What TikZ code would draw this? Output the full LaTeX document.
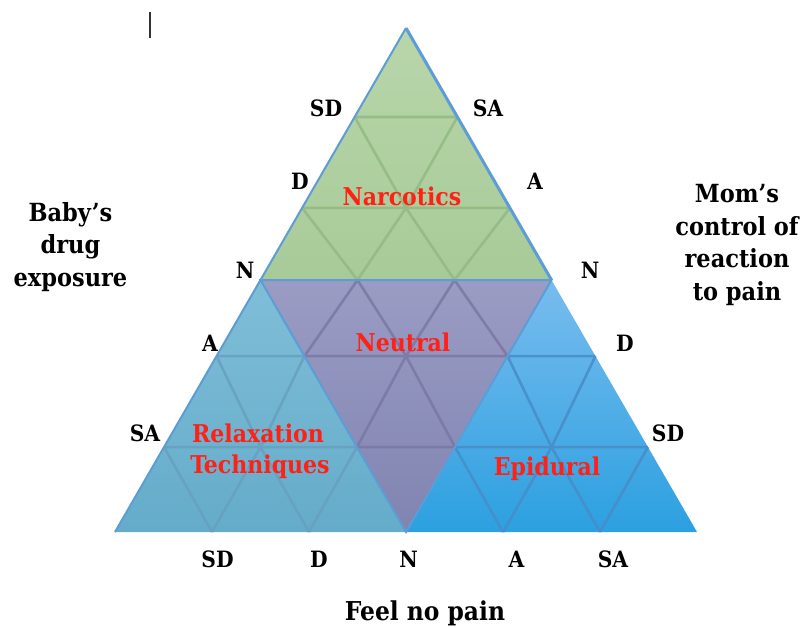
\documentclass[tikz,border=0pt]{standalone}
\usepackage{fontspec}
\setmainfont{DejaVu Serif Condensed}
\usetikzlibrary{calc,shadings}
\definecolor{gfill}{RGB}{168,202,152}
\definecolor{gfillT}{RGB}{184,214,170}
\definecolor{pfillT}{RGB}{154,156,196}
\definecolor{pfillB}{RGB}{128,132,176}
\definecolor{lfillT}{RGB}{128,190,216}
\definecolor{lfillB}{RGB}{100,172,202}
\definecolor{rfillT}{RGB}{120,188,238}
\definecolor{rfillB}{RGB}{44,160,224}
\definecolor{gridG}{RGB}{146,186,130}
\definecolor{gridP}{RGB}{122,120,165}
\definecolor{gridL}{RGB}{104,160,190}
\definecolor{gridR}{RGB}{72,140,200}
\definecolor{edgeB}{RGB}{92,157,214}
\definecolor{redT}{RGB}{255,32,22}
\newcommand{\gridtri}[6]{%
  \coordinate (l1) at ($(#1)!#4!(#2)$);
  \coordinate (r1) at ($(#1)!#4!(#3)$);
  \coordinate (l2) at ($(#1)!#5!(#2)$);
  \coordinate (r2) at ($(#1)!#5!(#3)$);
  \coordinate (m2) at ($(l2)!0.5!(r2)$);
  \coordinate (c1) at ($(#2)!1/3!(#3)$);
  \coordinate (c2) at ($(#2)!2/3!(#3)$);
  \draw[#6] (l1) -- (r1) (l2) -- (r2) (l1) -- (m2) -- (c2) (r1) -- (m2) -- (c1) (l2) -- (c1) (r2) -- (c2);
}
\begin{document}
\begin{tikzpicture}[x=1pt,y=-1pt,
  axlab/.style={font=\fontsize{22.5}{22.5}\selectfont\bfseries, anchor=base, inner sep=0pt},
  redlab/.style={font=\fontsize{24.5}{24.5}\selectfont\bfseries, text=redT, anchor=base, inner sep=0pt},
  sidelab/.style={font=\fontsize{25}{32.5}\selectfont\bfseries, align=center, inner sep=0pt},
  gridline/.style={line width=2.6pt, opacity=0.85}]
\useasboundingbox (0,0) rectangle (809,627);
\coordinate (T) at (406,28);
\coordinate (L) at (115,532);
\coordinate (R) at (697,532);
\coordinate (ML) at ($(T)!0.5!(L)$);
\coordinate (MR) at ($(T)!0.5!(R)$);
\coordinate (MB) at ($(L)!0.5!(R)$);
% fills
\shade[top color=gfillT, bottom color=gfill] (T) -- (ML) -- (MR) -- cycle;
\shade[top color=pfillT, bottom color=pfillB] (ML) -- (MR) -- (MB) -- cycle;
\shade[top color=lfillT, bottom color=lfillB] (ML) -- (L) -- (MB) -- cycle;
\shade[top color=rfillT, bottom color=rfillB] (MR) -- (MB) -- (R) -- cycle;
% grids
\gridtri{T}{ML}{MR}{0.353}{0.714}{gridline, gridG}
\gridtri{MB}{ML}{MR}{0.337}{0.698}{gridline, gridP}
\gridtri{ML}{L}{MB}{0.302}{0.663}{gridline, gridL}
\gridtri{MR}{MB}{R}{0.302}{0.663}{gridline, gridR}
% outlines
\draw[edgeB, line width=2pt] (ML) -- (MR) -- (MB) -- cycle;
\draw[edgeB, line width=2pt] (T) -- (L);
\draw[edgeB, line width=3pt] (T) -- (MR);
% cursor mark
\draw[black!80, line width=1.5pt] (150,12) -- (150,38);
% region labels
\node[redlab] (narc) at (402,205) {Narcotics};
\node[redlab] (neut) at (403,351) {Neutral};
\node[redlab] (relax) at (258,442) {Relaxation};
\node[redlab] (tech) at (260,473) {Techniques};
\node[redlab] (epid) at (547,475) {Epidural};
% left axis labels
\node[axlab] (lsd) at (326,116) {SD};
\node[axlab] (ld) at (300,189) {D};
\node[axlab] (ln) at (245,278) {N};
\node[axlab] (la) at (210,351) {A};
\node[axlab] (lsa) at (145,441) {SA};
% right axis labels
\node[axlab] (rsa) at (488,116) {SA};
\node[axlab] (ra) at (535,189) {A};
\node[axlab] (rn) at (590,278) {N};
\node[axlab] (rd) at (625,351) {D};
\node[axlab] (rsd) at (668,441) {SD};
% bottom axis labels
\node[axlab] (bsd) at (217.5,567) {SD};
\node[axlab] (bd) at (319,567) {D};
\node[axlab] (bn) at (408.5,567) {N};
\node[axlab] (ba) at (516.5,567) {A};
\node[axlab] (bsa) at (613,567) {SA};
% axis titles
\node[sidelab] (baby) at (70.5,247) {Baby’s\\drug\\exposure};
\node[sidelab] (mom) at (737,245) {Mom’s\\control of\\reaction\\to pain};
\node[font=\fontsize{26}{26}\selectfont\bfseries, anchor=base, inner sep=0pt] (feel) at (425,620) {Feel no pain};
\end{tikzpicture}
\end{document}
